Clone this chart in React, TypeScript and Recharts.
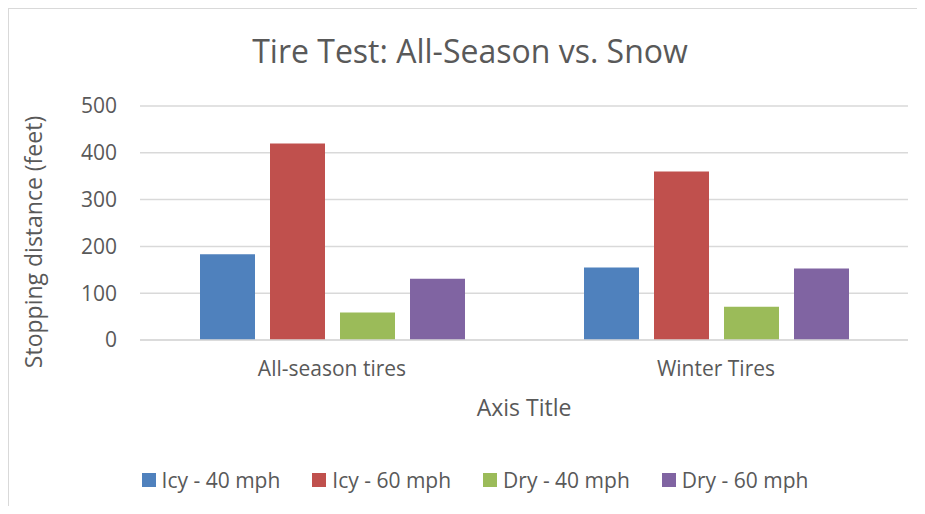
import { BarChart, Bar, XAxis, YAxis, CartesianGrid, Legend, Label } from 'recharts';

const categories = ['All-season tires', 'Winter Tires'];
const icy40 = [183, 155];
const icy60 = [420, 360];
const dry40 = [59, 71];
const dry60 = [131, 153];
const yTicks = [0, 100, 200, 300, 400, 500];

const SERIES = [
  { key: 'icy40', name: 'Icy - 40 mph', color: '#4F81BD' },
  { key: 'icy60', name: 'Icy - 60 mph', color: '#C0504D' },
  { key: 'dry40', name: 'Dry - 40 mph', color: '#9BBB59' },
  { key: 'dry60', name: 'Dry - 60 mph', color: '#8064A2' },
];

const data = categories.map((name, i) => ({
  name,
  icy40: icy40[i],
  icy60: icy60[i],
  dry40: dry40[i],
  dry60: dry60[i],
}));

const FONT = '"Open Sans", sans-serif';
const TEXT = '#595959';

const LegendContent = () => (
  <div style={{ display: 'flex', justifyContent: 'center', gap: 32, paddingLeft: 24, fontFamily: FONT, fontSize: 21, color: TEXT }}>
    {SERIES.map((s) => (
      <div key={s.key} style={{ display: 'flex', alignItems: 'center' }}>
        <span style={{ width: 14, height: 14, background: s.color, marginRight: 6, display: 'inline-block' }} />
        <span>{s.name}</span>
      </div>
    ))}
  </div>
);

const YTitle = () => {
  const x = 24;
  const y = 233;
  return (
    <text
      x={x}
      y={y}
      transform={`rotate(-90 ${x} ${y})`}
      textAnchor="middle"
      dominantBaseline="central"
      fill={TEXT}
      fontSize={23}
      fontFamily={FONT}
    >
      Stopping distance (feet)
    </text>
  );
};

export default function App() {
  return (
    <div style={{ position: 'relative', width: 917, height: 498, borderLeft: '1px solid #d9d9d9', borderTop: '1px solid #d9d9d9', boxSizing: 'border-box', background: '#fff' }}>
      <style>{'html, body { overflow: hidden; }'}</style>
      <div style={{ position: 'absolute', top: 20, left: 0, width: 908, paddingLeft: 14, boxSizing: 'border-box', textAlign: 'center', fontFamily: FONT, fontSize: 32, color: TEXT }}>
        Tire Test: All-Season vs. Snow
      </div>
      <BarChart
        width={908}
        height={497}
        data={data}
        margin={{ top: 97, right: 9, bottom: 58, left: 0 }}
        barCategoryGap={60}
        barGap={15}
      >
        <CartesianGrid vertical={false} stroke="#d9d9d9" strokeWidth={1.5} />
        <XAxis
          dataKey="name"
          height={80}
          axisLine={{ stroke: '#d9d9d9', strokeWidth: 1.5 }}
          tickLine={false}
          tickMargin={15}
          tick={{ fill: TEXT, fontSize: 21, fontFamily: FONT }}
        >
          <Label value="Axis Title" position="insideBottom" offset={4} fill={TEXT} fontSize={23} fontFamily={FONT} />
        </XAxis>
        <YAxis
          width={131}
          domain={[0, 500]}
          ticks={yTicks}
          axisLine={false}
          tickLine={false}
          tickMargin={17}
          tick={{ fill: TEXT, fontSize: 21, fontFamily: FONT }}
        >
          <Label content={YTitle} />
        </YAxis>
        <Legend verticalAlign="bottom" content={LegendContent} wrapperStyle={{ top: 457, left: 0, width: 908 }} />
        {SERIES.map((s) => (
          <Bar key={s.key} dataKey={s.key} name={s.name} fill={s.color} isAnimationActive={false} />
        ))}
      </BarChart>
    </div>
  );
}
